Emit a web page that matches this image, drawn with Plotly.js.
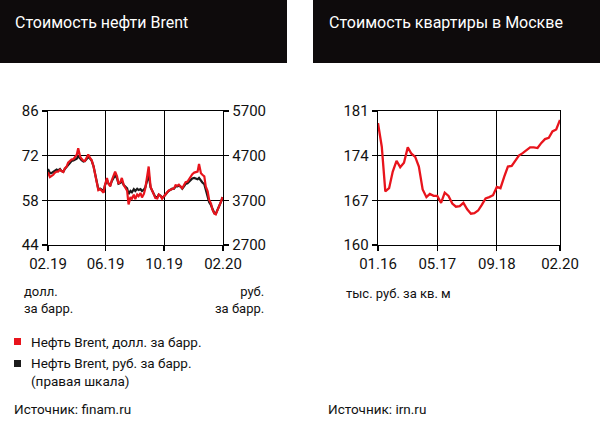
<!DOCTYPE html>
<html>
<head>
<meta charset="utf-8">
<script src="https://cdn.plot.ly/plotly-3.0.1.min.js"></script>
<style>
  body { margin: 0; background: #fff; }
  #chart { width: 600px; height: 425px; }
</style>
</head>
<body>
<div id="chart"></div>
<script>
// Brent, twice a week
var brent_dates = [
  '2019-02-01', '2019-02-05', '2019-02-08', '2019-02-12', '2019-02-15', '2019-02-19',
  '2019-02-22', '2019-02-26', '2019-03-01', '2019-03-05', '2019-03-08', '2019-03-12',
  '2019-03-15', '2019-03-19', '2019-03-22', '2019-03-26', '2019-03-29', '2019-04-02',
  '2019-04-05', '2019-04-09', '2019-04-12', '2019-04-16', '2019-04-19', '2019-04-23',
  '2019-04-26', '2019-04-30', '2019-05-03', '2019-05-07', '2019-05-10', '2019-05-14',
  '2019-05-17', '2019-05-21', '2019-05-24', '2019-05-28', '2019-05-31', '2019-06-04',
  '2019-06-07', '2019-06-11', '2019-06-14', '2019-06-18', '2019-06-21', '2019-06-25',
  '2019-06-28', '2019-07-02', '2019-07-05', '2019-07-09', '2019-07-12', '2019-07-16',
  '2019-07-19', '2019-07-23', '2019-07-26', '2019-07-30', '2019-08-02', '2019-08-06',
  '2019-08-09', '2019-08-13', '2019-08-16', '2019-08-20', '2019-08-23', '2019-08-27',
  '2019-08-30', '2019-09-03', '2019-09-06', '2019-09-10', '2019-09-13', '2019-09-17',
  '2019-09-20', '2019-09-24', '2019-09-27', '2019-10-01', '2019-10-04', '2019-10-08',
  '2019-10-11', '2019-10-15', '2019-10-18', '2019-10-22', '2019-10-25', '2019-10-29',
  '2019-11-01', '2019-11-05', '2019-11-08', '2019-11-12', '2019-11-15', '2019-11-19',
  '2019-11-22', '2019-11-26', '2019-11-29', '2019-12-03', '2019-12-06', '2019-12-10',
  '2019-12-13', '2019-12-17', '2019-12-20', '2019-12-24', '2019-12-27', '2019-12-31',
  '2020-01-03', '2020-01-07', '2020-01-10', '2020-01-14', '2020-01-17', '2020-01-21',
  '2020-01-24', '2020-01-28', '2020-01-31'
];
var brent_usd = [
  66.8, 65.3, 65.6, 66.0, 66.6, 67.0, 67.0, 67.6, 67.2, 66.9, 68.0, 68.6,
  69.8, 70.5, 70.8, 70.9, 71.5, 72.3, 74.3, 71.7, 71.0, 70.4, 70.3, 71.5,
  72.4, 71.2, 70.6, 68.6, 66.5, 63.0, 61.2, 61.5, 61.0, 60.4, 63.0, 65.0,
  63.2, 62.4, 64.3, 65.9, 67.0, 65.5, 63.2, 63.8, 65.0, 62.8, 61.9, 61.0,
  56.7, 59.0, 58.5, 59.8, 58.4, 59.8, 59.3, 60.3, 58.9, 60.0, 61.8, 66.0,
  68.6, 62.2, 61.3, 60.1, 58.7, 58.6, 59.8, 59.3, 58.5, 59.3, 60.0, 60.6,
  61.1, 61.3, 61.7, 61.8, 62.7, 62.6, 62.9, 62.4, 61.8, 62.9, 63.7, 63.9,
  64.6, 65.3, 66.2, 66.7, 66.8, 67.0, 69.4, 66.5, 66.0, 65.5, 62.4, 60.8,
  58.2, 57.0, 55.1, 53.9, 53.6, 54.9, 56.1, 57.7, 59.0
];
var brent_rub = [
  4400, 4310, 4310, 4340, 4370, 4390, 4370, 4400, 4360, 4340, 4400, 4440,
  4490, 4540, 4580, 4590, 4610, 4630, 4690, 4630, 4600, 4570, 4580, 4630,
  4670, 4630, 4590, 4460, 4310, 4080, 3950, 3960, 3930, 3910, 4040, 4150,
  4080, 4040, 4130, 4200, 4260, 4190, 4070, 4090, 4130, 4040, 4000, 3970,
  3840, 3910, 3880, 3950, 3910, 3960, 3930, 3950, 3910, 3940, 3990, 4160,
  4270, 3990, 3930, 3840, 3770, 3770, 3830, 3800, 3760, 3790, 3840, 3880,
  3910, 3930, 3960, 3960, 4010, 4010, 4030, 4000, 3960, 4020, 4070, 4080,
  4110, 4150, 4190, 4200, 4190, 4170, 4200, 4130, 4100, 4060, 3940, 3830,
  3660, 3590, 3490, 3410, 3400, 3490, 3570, 3670, 3770
];
var brent_ticks = ['2019-02-01', '2019-06-01', '2019-10-01', '2020-02-01'];
var brent_tick_labels = ['02.19', '06.19', '10.19', '02.20'];
var usd_ticks = [44, 58, 72, 86];
var rub_ticks = [2700, 3700, 4700, 5700];

// Moscow flat price, monthly
var flat_dates = [
  '2016-01', '2016-02', '2016-03', '2016-04', '2016-05', '2016-06', '2016-07', '2016-08',
  '2016-09', '2016-10', '2016-11', '2016-12', '2017-01', '2017-02', '2017-03', '2017-04',
  '2017-05', '2017-06', '2017-07', '2017-08', '2017-09', '2017-10', '2017-11', '2017-12',
  '2018-01', '2018-02', '2018-03', '2018-04', '2018-05', '2018-06', '2018-07', '2018-08',
  '2018-09', '2018-10', '2018-11', '2018-12', '2019-01', '2019-02', '2019-03', '2019-04',
  '2019-05', '2019-06', '2019-07', '2019-08', '2019-09', '2019-10', '2019-11', '2019-12',
  '2020-01', '2020-02'
];
var flat_price = [
  179.1, 175.4, 168.4, 168.9, 171.5, 173.2, 172.2, 172.9, 175.3, 174.3, 173.8, 172.3,
  168.7, 167.5, 168.0, 167.7, 167.7, 166.6, 168.2, 167.7, 166.5, 166.0, 166.1, 166.6,
  165.6, 164.9, 165.0, 165.4, 166.3, 167.3, 167.5, 167.8, 169.1, 168.9, 170.7, 172.3,
  172.4, 173.3, 174.0, 174.4, 174.8, 175.3, 175.3, 175.2, 176.0, 176.6, 176.8, 177.8,
  178.1, 179.6
];
var flat_ticks = ['2016-01-01', '2017-05-01', '2018-09-01', '2020-02-01'];
var flat_tick_labels = ['01.16', '05.17', '09.18', '02.20'];
var flat_y_ticks = [160, 167, 174, 181];

var FONT = 'Roboto, Liberation Sans, sans-serif';
var RED = '#e8141c';
var BLACK = '#1b1b1b';

function px(x) { return x / 600; }
function py(y) { return 1 - y / 425; }

function axis_style(extra) {
  var base = {
    showline: true,
    linecolor: '#000',
    linewidth: 1.3,
    showgrid: true,
    gridcolor: '#000',
    gridwidth: 1,
    zeroline: false,
    ticks: 'outside',
    ticklen: 5,
    tickwidth: 1.3,
    tickcolor: '#000',
    tickfont: {family: FONT, size: 15, color: '#111'},
    fixedrange: true,
  };
  for (var k in extra) { base[k] = extra[k]; }
  return base;
}

function text_annot(x, y, text, size, opts) {
  var a = {
    x: px(x), y: py(y), xref: 'paper', yref: 'paper',
    text: text, showarrow: false,
    xanchor: 'left', yanchor: 'middle', align: 'left',
    font: {family: FONT, size: size, color: '#111'},
  };
  for (var k in (opts || {})) { a[k] = opts[k]; }
  return a;
}

function draw_charts(canvas) {
  // rubles sit on the base axis so that the dollar line is drawn on top
  var rub_trace = {
    x: brent_dates, y: brent_rub, xaxis: 'x', yaxis: 'y',
    type: 'scatter', mode: 'lines',
    line: {color: BLACK, width: 2.2},
    hoverinfo: 'skip',
  };
  var usd_trace = {
    x: brent_dates, y: brent_usd, xaxis: 'x', yaxis: 'y2',
    type: 'scatter', mode: 'lines',
    line: {color: RED, width: 2.2},
    hoverinfo: 'skip',
  };
  var flat_trace = {
    x: flat_dates, y: flat_price, xaxis: 'x3', yaxis: 'y3',
    type: 'scatter', mode: 'lines',
    line: {color: RED, width: 2.3},
    hoverinfo: 'skip',
  };

  var shapes = [
    // header bars
    {type: 'rect', xref: 'paper', yref: 'paper', x0: 0, x1: px(287), y0: py(63), y1: 1,
     fillcolor: '#0e0b0c', line: {width: 0}, layer: 'below'},
    {type: 'rect', xref: 'paper', yref: 'paper', x0: px(313), x1: 1, y0: py(63), y1: 1,
     fillcolor: '#0e0b0c', line: {width: 0}, layer: 'below'},
    // legend squares
    {type: 'rect', xref: 'paper', yref: 'paper', x0: px(14), x1: px(21), y0: py(345), y1: py(338),
     fillcolor: RED, line: {width: 0}},
    {type: 'rect', xref: 'paper', yref: 'paper', x0: px(14), x1: px(21), y0: py(367), y1: py(360),
     fillcolor: BLACK, line: {width: 0}},
  ];

  var white_title = {family: FONT, size: 16, color: '#fff'};
  var annotations = [
    text_annot(13, 23, 'Стоимость нефти Brent', 16, {font: white_title}),
    text_annot(327, 23, 'Стоимость квартиры в Москве', 16, {font: white_title}),
    text_annot(22, 300, 'долл.<br>за барр.', 13),
    text_annot(266, 300, 'руб.<br>за барр.', 13, {xanchor: 'right', align: 'right'}),
    text_annot(344, 293, 'тыс. руб. за кв. м', 13),
    text_annot(29, 342, 'Нефть Brent, долл. за барр.', 13.5),
    text_annot(29, 363, 'Нефть Brent, руб. за барр.', 13.5),
    text_annot(29, 381, '(правая шкала)', 13.5),
    text_annot(12, 409, 'Источник: finam.ru', 13.5),
    text_annot(326, 409, 'Источник: irn.ru', 13.5),
  ];

  var layout = {
    width: 600,
    height: 425,
    margin: {l: 0, r: 0, t: 0, b: 0},
    paper_bgcolor: '#fff',
    plot_bgcolor: '#fff',
    showlegend: false,
    shapes: shapes,
    annotations: annotations,

    xaxis: axis_style({
      domain: [px(48), px(223)], anchor: 'y', type: 'date',
      range: ['2019-02-01', '2020-02-01'],
      tickmode: 'array', tickvals: brent_ticks, ticktext: brent_tick_labels,
      mirror: true,
    }),
    yaxis: axis_style({
      domain: [py(245), py(111)], anchor: 'x', side: 'right',
      range: [2700, 5700], tickmode: 'array', tickvals: rub_ticks,
      showgrid: false,
    }),
    yaxis2: axis_style({
      overlaying: 'y', side: 'left', anchor: 'x',
      range: [44, 86], tickmode: 'array', tickvals: usd_ticks,
    }),

    xaxis3: axis_style({
      domain: [px(378), px(560)], anchor: 'y3', type: 'date',
      range: ['2016-01-01', '2020-02-01'],
      tickmode: 'array', tickvals: flat_ticks, ticktext: flat_tick_labels,
      mirror: true,
    }),
    yaxis3: axis_style({
      domain: [py(245), py(111)], anchor: 'x3',
      range: [160, 181], tickmode: 'array', tickvals: flat_y_ticks,
      mirror: true,
    }),
  };

  var config = {displayModeBar: false, staticPlot: true};
  Plotly.newPlot(canvas, [rub_trace, usd_trace, flat_trace], layout, config);
}

draw_charts(document.getElementById('chart'));
</script>
</body>
</html>
